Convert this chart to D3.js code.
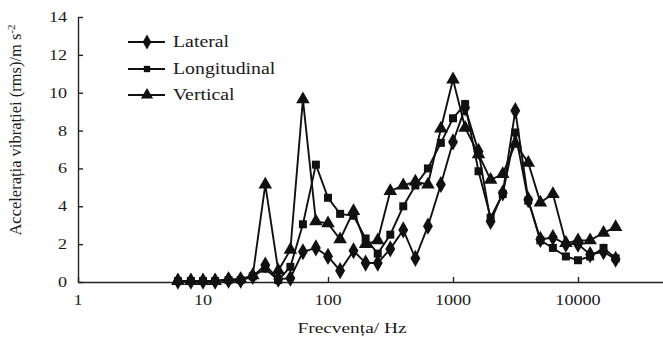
<!DOCTYPE html>
<html>
<head>
<meta charset="utf-8">
<script src="https://cdn.jsdelivr.net/npm/d3@7"></script>
<style>
  body { margin: 0; background: #fff; }
  text { font-family: "Liberation Serif", "Times New Roman", serif; fill: #1a1a1a; }
</style>
</head>
<body>
<div id="chart"></div>
<script>
var svgWidth = 663;
var svgHeight = 337;

// 1/3 octave band centre frequencies (Hz)
var frequencies = [6.3, 8, 10, 12.5, 16, 20, 25, 31.5, 40, 50, 63, 80, 100, 125, 160, 200, 250, 315, 400, 500,
  630, 800, 1000, 1250, 1600, 2000, 2500, 3150, 4000, 5000, 6300, 8000, 10000, 12500, 16000, 20000];

var lateral = [0.05, 0.05, 0.05, 0.05, 0.1, 0.1, 0.3, 0.9, 0.15, 0.2, 1.6, 1.8, 1.35, 0.6, 1.65, 1.0, 1.0, 1.75, 2.75, 1.25,
  2.95, 5.15, 7.4, 9.2, 6.9, 3.2, 4.7, 9.05, 4.35, 2.25, 2.35, 2.0, 2.0, 1.45, 1.6, 1.2];

var longitudinal = [0.05, 0.05, 0.05, 0.05, 0.1, 0.1, 0.3, 0.7, 0.1, 0.8, 3.05, 6.2, 4.45, 3.6, 3.5, 2.3, 1.5, 2.5, 4.0, 5.1,
  6.0, 7.35, 8.65, 9.4, 5.85, 3.4, 4.65, 7.9, 4.3, 2.2, 1.8, 1.35, 1.15, 1.35, 1.8, 1.25];

var vertical = [0.05, 0.05, 0.05, 0.05, 0.15, 0.15, 0.35, 5.15, 0.6, 1.7, 9.65, 3.2, 3.1, 2.25, 3.75, 2.0, 2.2, 4.8, 5.1, 5.3,
  5.15, 8.1, 10.7, 8.15, 6.75, 5.4, 5.7, 7.3, 6.3, 4.2, 4.65, 2.05, 2.2, 2.2, 2.6, 2.9];

var seriesNames = ["Lateral", "Longitudinal", "Vertical"];
var xTicks = [1, 10, 100, 1000, 10000];
var yTicks = [0, 2, 4, 6, 8, 10, 12, 14];

var series = [
  { name: seriesNames[0], values: lateral, symbol: d3.symbolDiamond, size: 85 },
  { name: seriesNames[1], values: longitudinal, symbol: d3.symbolSquare, size: 64 },
  { name: seriesNames[2], values: vertical, symbol: d3.symbolTriangle, size: 80 }
];

var svg = d3.select("#chart")
  .append("svg")
  .attr("width", svgWidth)
  .attr("height", svgHeight);

var x = d3.scaleLog()
  .domain([1, 100000])
  .range([78, 703]);

var y = d3.scaleLinear()
  .domain([0, 14])
  .range([282, 17]);

// stretched serif text like the scanned figure
function label(parent, tx, ty, str, size, anchor, sx) {
  return parent.append("text")
    .attr("transform", `translate(${tx}, ${ty}) scale(${sx}, 1)`)
    .attr("text-anchor", anchor)
    .attr("font-size", size + "px")
    .text(str);
}

// x axis
var xAxis = svg.append("g")
  .attr("transform", `translate(0, ${y(0)})`)
  .call(d3.axisBottom(x).tickValues(xTicks).tickSizeInner(-5).tickSizeOuter(0).tickFormat(""));
xAxis.select(".domain").attr("stroke", "#222").attr("stroke-width", 1.4);
xAxis.selectAll(".tick line").attr("stroke", "#222").attr("stroke-width", 1.4);

xTicks.forEach(function(t) {
  label(svg, x(t), 305, d3.format("d")(t), 14.5, "middle", 1.25);
});

// y axis
var yAxis = svg.append("g")
  .attr("transform", `translate(${x(1)}, 0)`)
  .call(d3.axisLeft(y).tickValues(yTicks).tickSizeInner(-5).tickSizeOuter(0).tickFormat(""));
yAxis.select(".domain").attr("stroke", "#222").attr("stroke-width", 1.4);
yAxis.selectAll(".tick line").attr("stroke", "#222").attr("stroke-width", 1.4);

yTicks.forEach(function(t) {
  label(svg, 67, y(t) + 5, t, 14.5, "end", 1.25);
});

// lines + markers
var line = d3.line()
  .x(function(d, i) { return x(frequencies[i]); })
  .y(function(d) { return y(d); });

series.forEach(function(s) {
  svg.append("path")
    .datum(s.values)
    .attr("fill", "none")
    .attr("stroke", "#111")
    .attr("stroke-width", 1.9)
    .attr("d", line);

  svg.selectAll(null)
    .data(s.values)
    .enter()
    .append("path")
    .attr("d", d3.symbol().type(s.symbol).size(s.size))
    .attr("transform", function(d, i) { return `translate(${x(frequencies[i])}, ${y(d)})`; })
    .attr("fill", "#111");
});

// legend
var legendY = [42, 69, 95];
series.forEach(function(s, i) {
  svg.append("line")
    .attr("x1", 128).attr("x2", 165)
    .attr("y1", legendY[i]).attr("y2", legendY[i])
    .attr("stroke", "#111")
    .attr("stroke-width", 1.8);
  svg.append("path")
    .attr("d", d3.symbol().type(s.symbol).size(i == 1 ? 40 : 65))
    .attr("transform", `translate(147, ${legendY[i]})`)
    .attr("fill", "#111");
  label(svg, 173, legendY[i] + 5, s.name, 16.5, "start", 1.2);
});

// axis titles
label(svg, 352, 333, "Frecvența/ Hz", 15.5, "middle", 1.25);

var yTitle = svg.append("text")
  .attr("transform", "translate(21, 130) rotate(-90)")
  .attr("text-anchor", "middle")
  .attr("font-size", "16.5px");
yTitle.append("tspan").text("Accelerația vibrației  (rms)/m s");
yTitle.append("tspan").attr("dy", -6).attr("font-size", "11px").text("-2");
</script>
</body>
</html>
